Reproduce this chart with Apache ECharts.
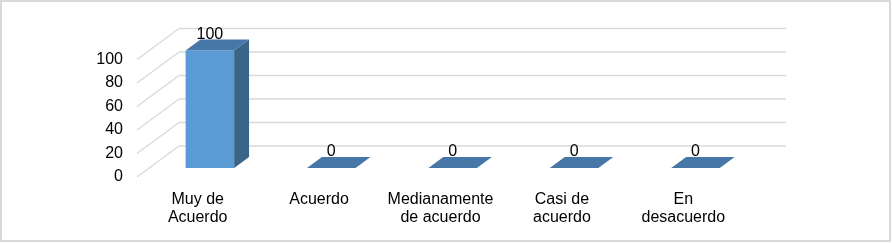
<!DOCTYPE html>
<html>
<head>
<meta charset="utf-8">
<script src="https://cdn.jsdelivr.net/npm/echarts@6/dist/echarts.min.js"></script>
<style>
  html, body { margin: 0; padding: 0; background: #fff; }
  #chart { width: 892px; height: 243px; }
</style>
</head>
<body>
<div id="chart"></div>
<script>
const categories = ['Muy de\nAcuerdo', 'Acuerdo', 'Medianamente\nde acuerdo', 'Casi de\nacuerdo', 'En\ndesacuerdo'];
const values = [100, 0, 0, 0, 0];
const yTicks = [0, 20, 40, 60, 80, 100];

// oblique depth of the 3D box (px)
const depth = [42, -31];
const barFront = 0.29;   // depth fraction where bar front sits
const barBack = 0.645;   // depth fraction where bar back sits
const barWidthRatio = 0.4;

const colFront = '#5b9bd5';
const colSide = '#3a6488';
const colTop = '#4677a6';
const gridColor = '#d9d9d9';
const font = 'Liberation Sans, Arial, sans-serif';

const chart = echarts.init(document.getElementById('chart'));

const wallItem = (params, api) => {
  const v = api.value(0);
  const cs = params.coordSys;
  const p = api.coord([0, v]);
  const x0 = cs.x;
  const y0 = p[1];
  const bx = x0 + depth[0];
  const by = y0 + depth[1];
  return {
    type: 'group',
    children: [
      { type: 'line', shape: { x1: x0, y1: y0, x2: bx, y2: by }, style: { stroke: gridColor, lineWidth: 1.3 } },
      { type: 'line', shape: { x1: bx, y1: by, x2: cs.x + cs.width + depth[0], y2: by }, style: { stroke: gridColor, lineWidth: 1.3 } }
    ]
  };
};

const barItem = (params, api) => {
  const idx = api.value(0);
  const val = api.value(1);
  const base = api.coord([idx, 0]);
  const top = api.coord([idx, val]);
  const band = api.size([1, 0])[0];
  const w = band * barWidthRatio;
  const fx = depth[0] * barFront, fy = depth[1] * barFront;
  const dx = depth[0] * (barBack - barFront), dy = depth[1] * (barBack - barFront);
  const l = base[0] - w / 2 + fx;
  const r = base[0] + w / 2 + fx;
  const yb = base[1] + fy;
  const yt = top[1] + fy;
  const children = [];
  if (yb - yt > 0.5) {
    children.push({ type: 'rect', shape: { x: l, y: yt, width: w, height: yb - yt }, style: { fill: colFront } });
    children.push({ type: 'polygon', shape: { points: [[r, yb], [r, yt], [r + dx, yt + dy], [r + dx, yb + dy]] }, style: { fill: colSide } });
  }
  children.push({ type: 'polygon', shape: { points: [[l, yt], [r, yt], [r + dx, yt + dy], [l + dx, yt + dy]] }, style: { fill: colTop } });
  children.push({
    type: 'text',
    style: {
      x: base[0] + fx, y: yt + dy + 3, text: String(val),
      align: 'center', verticalAlign: 'bottom',
      font: '16px ' + font, fill: '#000'
    }
  });
  return { type: 'group', children };
};

chart.setOption({
  animation: false,
  backgroundColor: '#fff',
  graphic: [{
    type: 'rect', shape: { x: 1, y: 1, width: 889, height: 240 },
    style: { fill: 'none', stroke: gridColor, lineWidth: 2 }, silent: true
  }],
  grid: { left: 137, right: 148, top: 59.5, bottom: 66 },
  xAxis: {
    type: 'category',
    data: categories,
    axisLine: { show: false },
    axisTick: { show: false },
    axisLabel: { color: '#000', fontSize: 16, fontFamily: font, lineHeight: 18, margin: 14, interval: 0 }
  },
  yAxis: {
    type: 'value',
    min: 0, max: 100, interval: 20,
    axisLine: { show: false },
    axisTick: { show: false },
    splitLine: { show: false },
    axisLabel: { color: '#000', fontSize: 16, fontFamily: font, margin: 14 }
  },
  series: [
    { type: 'custom', renderItem: wallItem, data: yTicks.map(v => [v]), encode: { y: 0 }, silent: true, z: 1 },
    { type: 'custom', renderItem: barItem, data: values.map((v, i) => [i, v]), encode: { x: 0, y: 1 }, z: 2 }
  ]
});
</script>
</body>
</html>
